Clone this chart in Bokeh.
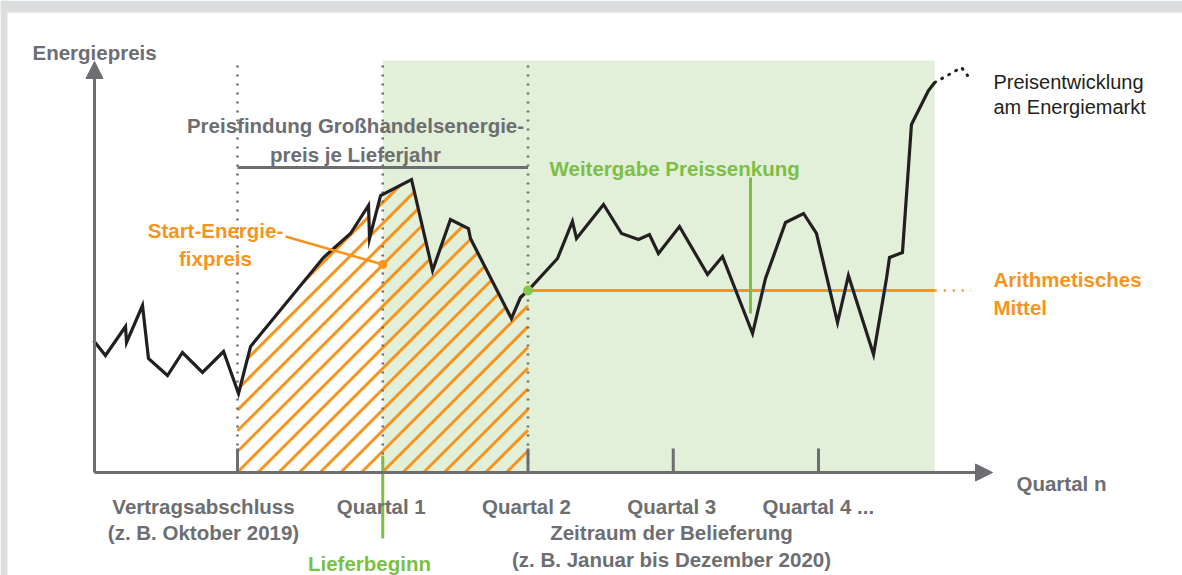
from bokeh.plotting import figure
from bokeh.models import Range1d, Arrow, NormalHead, BoxAnnotation
from bokeh.core.properties import value
from bokeh.embed import file_html
from bokeh.resources import INLINE
import numpy as np

# ---------------- data (x in quarters after contract signing, y = price index) ----------
price_x = [-0.991, -0.909, -0.771, -0.764, -0.654, -0.613, -0.482, -0.379, -0.241, -0.096,
           0.007, 0.090, 0.592, 0.778, 0.902, 0.909, 0.985, 1.198, 1.343, 1.466, 1.590,
           1.604, 1.886, 1.948, 2.000, 2.203, 2.306, 2.334, 2.520, 2.644, 2.761, 2.836,
           2.898, 3.043, 3.236, 3.339, 3.546, 3.635, 3.773, 3.897, 3.986, 4.131, 4.206,
           4.379, 4.468, 4.489, 4.578, 4.640, 4.757, 4.800]
price_y = [13.2, 11.7, 14.6, 13.0, 16.7, 11.4, 9.7, 12.0, 10.0, 12.1,
           7.9, 12.6, 21.5, 23.9, 26.7, 23.4, 27.7, 29.3, 20.2, 25.3, 24.4,
           23.4, 15.4, 17.5, 18.2, 21.4, 25.1, 23.4, 26.8, 23.9, 23.3, 23.8,
           21.9, 24.6, 19.8, 21.6, 13.9, 19.4, 25.0, 25.9, 23.9, 15.0, 19.7,
           11.8, 19.4, 21.5, 22.0, 34.8, 38.2, 39.0]
trend_x = [4.800, 4.985, 5.026]
trend_y = [39.0, 40.5, 39.7]

contract_q = 0.0        # Vertragsabschluss
delivery_start_q = 1.0  # Lieferbeginn
pricing_end_q = 2.0     # end of price finding
delivery_end_q = 4.8
tick_quarters = [0, 2, 3, 4]
start_fixed_price = 20.8
mean_price = 18.2
mean_dotted_end = 5.05
tick_label_q = [1, 2, 3]
tick_labels = ["Quartal 1", "Quartal 2", "Quartal 3"]

# ---------------- layout helpers (reference pixel -> data) -------------------------------
W, H, OFF = 1182, 575, 0
Q_PX, ORIGIN_PX, BASE_PX, UNIT_PX = 145.25, 237.0, 472.0, 10.0
def X(px):
    return (px - ORIGIN_PX) / Q_PX
def Y(py):
    return (BASE_PX - py) / UNIT_PX
def SX(x):
    return ORIGIN_PX + x * Q_PX
def SY(y):
    return BASE_PX - y * UNIT_PX

GREY = "#6d6e71"
ORANGE = "#f7941d"
GREEN = "#7dbf44"
GREEN_BG = "#e2efd9"
BLACK = "#231f20"
FONT = value("Liberation Sans")

p = figure(width=W, height=H, x_range=Range1d(X(OFF), X(OFF + W)), y_range=Range1d(Y(OFF + H), Y(OFF)),
           output_backend="svg", toolbar_location=None, x_axis_type=None, y_axis_type=None,
           min_border=0, outline_line_color=None)
p.xgrid.visible = False
p.ygrid.visible = False

top_y = Y(60)
# delivery period background
p.quad(left=[delivery_start_q], right=[delivery_end_q], bottom=[0], top=[top_y],
       fill_color=GREEN_BG, line_color=None)

# hatched area below the price curve during price finding (45° lines, clipped to the area)
px = np.array(price_x); py = np.array(price_y)
m = (px > contract_q) & (px <= pricing_end_q)
hx = [contract_q, contract_q] + list(px[m]) + [pricing_end_q]
hy = [0, float(np.interp(contract_q, px, py))] + list(py[m]) + [0]
poly = [(SX(a), SY(b)) for a, b in zip(hx, hy)]
HATCH_STEP, HATCH_PHASE = 20.7, 729.4
sums = [a + b for a, b in poly]
k_lo = int(np.floor((min(sums) - HATCH_PHASE) / HATCH_STEP))
k_hi = int(np.ceil((max(sums) - HATCH_PHASE) / HATCH_STEP))
seg_xs, seg_ys = [], []
for k in range(k_lo, k_hi + 1):
    c = HATCH_PHASE + k * HATCH_STEP
    pts = []
    n = len(poly)
    for i in range(n):
        (x1, y1), (x2, y2) = poly[i], poly[(i + 1) % n]
        f1, f2 = x1 + y1 - c, x2 + y2 - c
        if (f1 < 0) != (f2 < 0):
            t = f1 / (f1 - f2)
            pts.append((x1 + t * (x2 - x1), y1 + t * (y2 - y1)))
    pts.sort()
    for j in range(0, len(pts) - 1, 2):
        (a1, b1), (a2, b2) = pts[j], pts[j + 1]
        seg_xs.append([X(a1), X(a2)])
        seg_ys.append([Y(b1), Y(b2)])
p.multi_line(seg_xs, seg_ys, line_color=ORANGE, line_width=3)

# dotted vertical guides
for q in [contract_q, delivery_start_q, pricing_end_q]:
    p.line([q, q], [0, Y(59)], line_color=GREY, line_width=2.6, line_dash="2 7")

# ticks
p.segment(x0=tick_quarters, y0=[0] * 4, x1=tick_quarters, y1=[Y(448)] * 4,
          line_color=GREY, line_width=3)

# axes with arrows
p.add_layout(Arrow(x_start=X(94), y_start=0, x_end=X(992), y_end=0, line_color=GREY,
                   line_width=3, end=NormalHead(size=17, fill_color=GREY, line_color=GREY)))
p.add_layout(Arrow(x_start=X(94), y_start=0, x_end=X(94), y_end=Y(61), line_color=GREY,
                   line_width=3, end=NormalHead(size=17, fill_color=GREY, line_color=GREY)))

# delivery start marker line
p.line([delivery_start_q, delivery_start_q], [Y(455), Y(538)], line_color=GREEN, line_width=3)

# bracket for price finding
p.line([contract_q, pricing_end_q], [Y(167), Y(167)], line_color=GREY, line_width=3)

# mean price line
p.line([pricing_end_q, delivery_end_q], [mean_price, mean_price], line_color=ORANGE, line_width=3)
p.line([delivery_end_q, mean_dotted_end], [mean_price, mean_price], line_color=ORANGE,
       line_width=2.6, line_dash="2 7")

# price curve
p.line(price_x, price_y, line_color=BLACK, line_width=3.2, line_join="miter")
p.line(trend_x, trend_y, line_color=BLACK, line_width=3, line_dash="1 7", line_cap="round")

# Weitergabe marker
p.line([X(750), X(750)], [Y(177), Y(313)], line_color=GREEN, line_width=3)

# start fixed price leader
p.line([X(285), delivery_start_q], [Y(236), start_fixed_price], line_color=ORANGE, line_width=2.6)
p.scatter([delivery_start_q], [start_fixed_price], size=9, fill_color=ORANGE, line_color=None)
p.scatter([pricing_end_q], [mean_price], size=10, fill_color="#8dc63f", line_color=None)


def label(x, y, text, color=GREY, align="left", bold=True, size="20.5px", font=FONT):
    p.text(x=[x], y=[y], text=[text], text_color=color, text_align=align,
           text_baseline="alphabetic", text_font=font, text_font_size=size,
           text_font_style="bold" if bold else "normal")

label(X(32), Y(52), "Energiepreis")
label(X(355), Y(125), "Preisfindung Großhandelsenergie-", align="center")
label(X(355), Y(154), "preis je Lieferjahr", align="center")
label(X(549), Y(168), "Weitergabe Preissenkung", color=GREEN)
label(X(215), Y(230), "Start-Energie-", color=ORANGE, align="center")
label(X(215), Y(258), "fixpreis", color=ORANGE, align="center")
label(X(993), Y(279), "Arithmetisches", color=ORANGE)
label(X(993), Y(307), "Mittel", color=ORANGE)
label(X(993), Y(81), "Preisentwicklung", color=BLACK, bold=False, size="20px")
label(X(993), Y(106), "am Energiemarkt", color=BLACK, bold=False, size="20px")
label(X(203), Y(506), "Vertragsabschluss", align="center")
label(X(203), Y(532), "(z. B. Oktober 2019)", align="center")
for q, t in zip(tick_label_q, tick_labels):
    label(q - 0.01, Y(506), t, align="center")
label(X(762), Y(506), "Quartal 4 ...")
label(X(671), Y(532), "Zeitraum der Belieferung", align="center")
label(X(671), Y(559), "(z. B. Januar bis Dezember 2020)", align="center")
label(X(369), Y(563), "Lieferbeginn", color=GREEN, align="center")
label(X(1016), Y(483), "Quartal n")

# grey frame strips at top and left
p.add_layout(BoxAnnotation(bottom=Y(12), fill_color="#dcdddf", fill_alpha=1, line_alpha=0))
p.add_layout(BoxAnnotation(right=X(7), fill_color="#dcdddf", fill_alpha=1, line_alpha=0))

open("out.html", "w").write(file_html(p, INLINE))
